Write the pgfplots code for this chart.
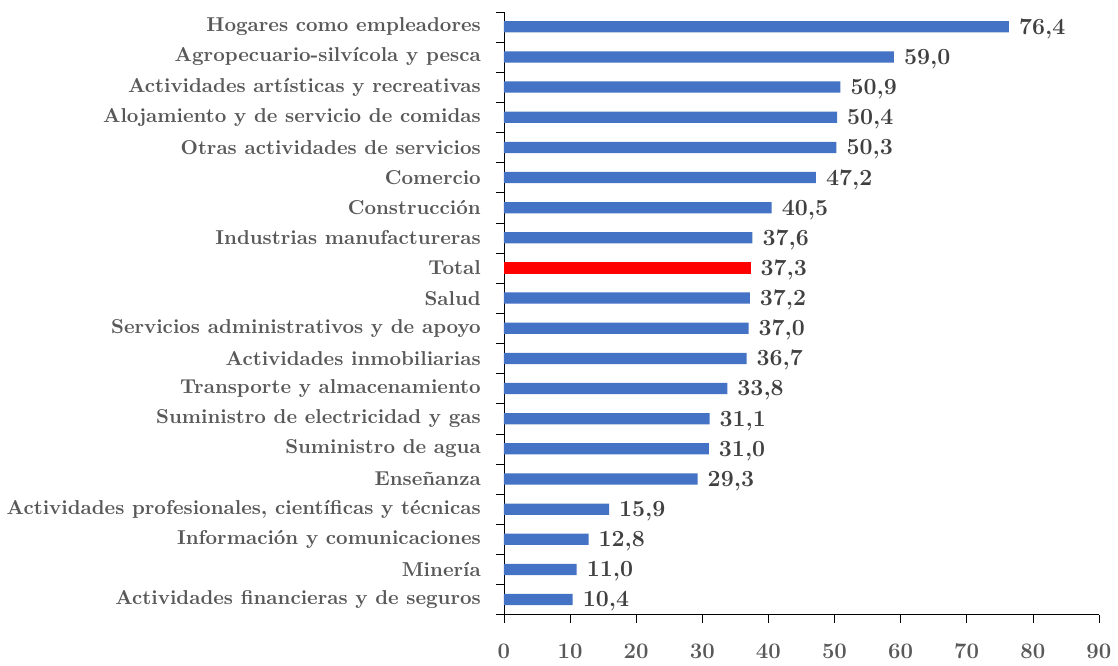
\documentclass[border=0pt]{standalone}
\usepackage{pgfplots}
\pgfplotsset{compat=1.18}
\definecolor{barblue}{HTML}{4472C4}
\definecolor{lblgray}{HTML}{595959}
\definecolor{valgray}{HTML}{404040}

\begin{document}
\begin{tikzpicture}
\begin{axis}[
  scale only axis, width=296pt, height=300pt,
  xbar, bar width=5.6pt, bar shift=0pt,
  xmin=0, xmax=90, xtick={0,10,...,90},
  ymin=-0.5, ymax=19.5,
  ytick={-0.5,0.5,...,19.5}, yticklabels={},
  extra y ticks={0,...,19},
  extra y tick labels={Actividades financieras y de seguros, Minería, Información y comunicaciones,
    {Actividades profesionales, científicas y técnicas}, Enseñanza, Suministro de agua,
    Suministro de electricidad y gas, Transporte y almacenamiento, Actividades inmobiliarias,
    Servicios administrativos y de apoyo, Salud, Total, Industrias manufactureras,
    Construcción, Comercio, Otras actividades de servicios, Alojamiento y de servicio de comidas,
    Actividades artísticas y recreativas, Agropecuario-silvícola y pesca, Hogares como empleadores},
  extra y tick style={major tick length=0pt, yticklabel style={font=\bfseries, text=lblgray, xshift=-8pt}},
  axis lines=left, axis line style={-, black},
  tick align=outside, major tick length=4pt,
  tick style={black},
  xticklabel style={font=\bfseries\fontsize{11}{13}\selectfont, text=lblgray, yshift=-7pt},
  /pgf/number format/assume math mode=true,
  nodes near coords,
  every node near coord/.append style={font=\bfseries\fontsize{11.5}{13}\selectfont, text=valgray,
    anchor=west, xshift=1.5pt, yshift=-1pt,
    /pgf/number format/.cd, fixed, fixed zerofill, precision=1, use comma, assume math mode=true},
]
\addplot[fill=barblue, draw=none] coordinates {
  (10.4,0) (11.0,1) (12.8,2) (15.9,3) (29.3,4) (31.0,5) (31.1,6) (33.8,7) (36.7,8)
  (37.0,9) (37.2,10) (37.6,12) (40.5,13) (47.2,14) (50.3,15) (50.4,16)
  (50.9,17) (59.0,18) (76.4,19)};
\addplot[fill=red, draw=none] coordinates {(37.3,11)};
\end{axis}
\path (current bounding box.north) ++(0,2.5pt);
\end{tikzpicture}
\end{document}
